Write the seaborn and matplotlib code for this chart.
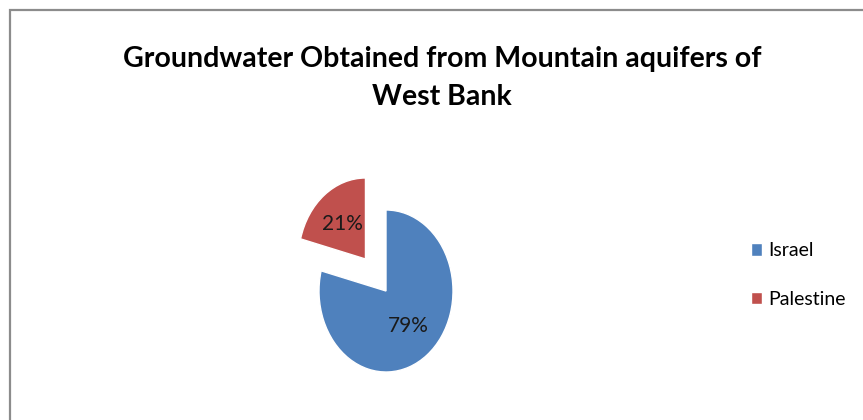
"""Pie chart: groundwater obtained from the mountain aquifers of the West Bank."""
import matplotlib
matplotlib.use("Agg")
import matplotlib.pyplot as plt
from matplotlib.patches import Rectangle
import seaborn as sns

# Daten
labels = ["Israel", "Palestine"]
shares = [79, 21]
colors = ["#4F81BD", "#C0504D"]
explode = [0, 0.5]

title = "Groundwater Obtained from Mountain aquifers of\nWest Bank"

sns.set_theme(style="white")
plt.rcParams["font.family"] = ["Lato", "DejaVu Sans"]
plt.rcParams["text.color"] = "black"

W, H = 863, 420
fig = plt.figure(figsize=(W / 100, H / 100), dpi=100)

# Rahmen (nur oben und links sichtbar)
fig.add_artist(Rectangle((10 / W, -0.1), 1.2, (H - 10) / H + 0.1,
                         transform=fig.transFigure, fill=False,
                         edgecolor="#8c8c8c", linewidth=1.6))

# Achse so platzieren, dass der Kreis leicht gestreckt ist (67 px x 81 px)
cx, cy = 386, 291
rx, ry = 67, 81
span = 2.0
ax = fig.add_axes([(cx - span * rx) / W, (H - cy - span * ry) / H,
                   2 * span * rx / W, 2 * span * ry / H])
wedges, texts, autotexts = ax.pie(
    shares, colors=colors, explode=explode, startangle=90, counterclock=False,
    autopct="%d%%", pctdistance=0.55,
    textprops={"fontsize": 15, "color": "#1a1a1a"},
)
ax.set_aspect("auto")
ax.set_xlim(-span, span)
ax.set_ylim(-span, span)
ax.axis("off")

fig.text(442 / W, 1 - 78 / H, title, ha="center", va="center",
         fontsize=20.5, fontweight="bold", linespacing=1.55)

fig.legend(wedges, labels, loc="center left", bbox_to_anchor=(733 / W, 1 - 275 / H),
           frameon=False, fontsize=14, handlelength=0.6, handleheight=0.6,
           handletextpad=0.3, labelspacing=1.6)

fig.savefig("out.png", dpi=100)
